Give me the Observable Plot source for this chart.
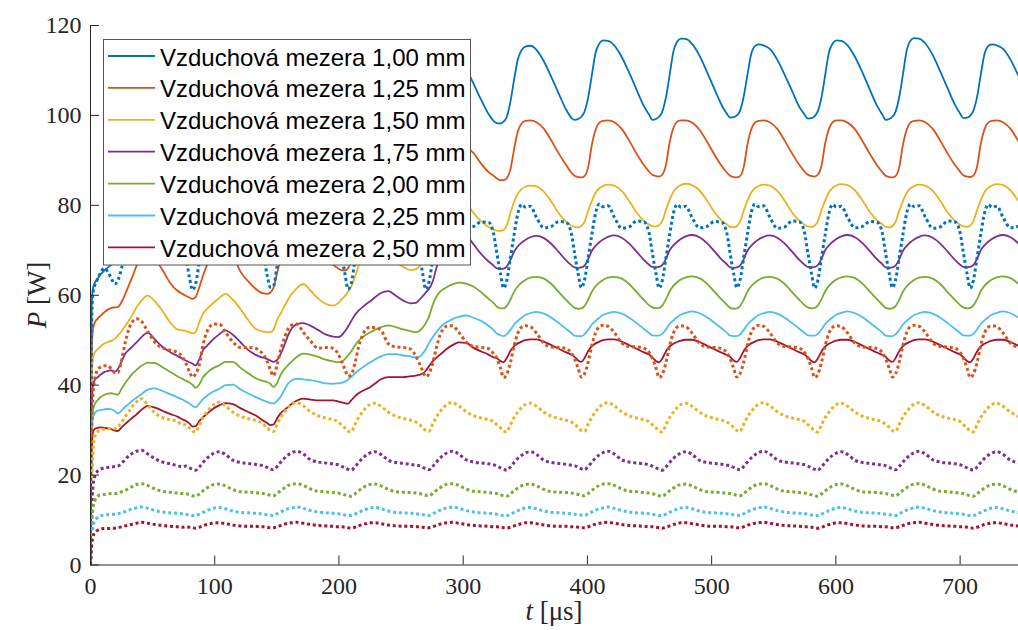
<!DOCTYPE html>
<html><head><meta charset="utf-8">
<script src="https://cdn.jsdelivr.net/npm/d3@7"></script>
<script src="https://cdn.jsdelivr.net/npm/@observablehq/plot@0.6"></script>
<style>
body{margin:0;background:#fff;}
#wrap{position:relative;width:1018px;height:630px;overflow:hidden;}
#wrap svg.overlay{position:absolute;left:0;top:0;pointer-events:none;}
</style></head><body><div id="wrap"></div>
<script>
// time axis samples (µs)
const time = [
 0,0.4,1,2,3.5,5.5,8,11,
 14,17,19.5,22,25,28,31,34,37,41,46,52,58,64,70,74,
 76.6,79.6,82.1,84.6,87.6,90.6,93.6,96.6,99.6,103.6,108.6,114.6,120.6,126.6,132.6,136.6,
 139.2,142.2,144.7,147.2,150.2,153.2,156.2,159.2,162.2,166.2,171.2,177.2,183.2,189.2,195.2,199.2,
 201.8,204.8,207.3,209.8,212.8,215.8,218.8,221.8,224.8,228.8,233.8,239.8,245.8,251.8,257.8,261.8,
 264.4,267.4,269.9,272.4,275.4,278.4,281.4,284.4,287.4,291.4,296.4,302.4,308.4,314.4,320.4,324.4,
 327,330,332.5,335,338,341,344,347,350,354,359,365,371,377,383,387,
 389.6,392.6,395.1,397.6,400.6,403.6,406.6,409.6,412.6,416.6,421.6,427.6,433.6,439.6,445.6,449.6,
 452.2,455.2,457.7,460.2,463.2,466.2,469.2,472.2,475.2,479.2,484.2,490.2,496.2,502.2,508.2,512.2,
 514.8,517.8,520.3,522.8,525.8,528.8,531.8,534.8,537.8,541.8,546.8,552.8,558.8,564.8,570.8,574.8,
 577.4,580.4,582.9,585.4,588.4,591.4,594.4,597.4,600.4,604.4,609.4,615.4,621.4,627.4,633.4,637.4,
 640,643,645.5,648,651,654,657,660,663,667,672,678,684,690,696,700,
 702.6,705.6,708.1,710.6,713.6,716.6,719.6,722.6,725.6,729.6,734.6,740.6,746.6,752.6
];

// solid lines (legend entries)
const s100 = [
 0,30,58,61.5,62.8,63.6,64.6,65.5,
 66.2,66.8,67.5,68.5,70.0,72.5,75.0,77.0,78.5,79.5,79.0,77.0,74.5,72.5,71.5,71.3,
 71.3,71.5,72.0,73.0,75.5,79.0,82.5,85.0,86.5,87.0,86.5,84.5,82.0,80.0,79.0,78.8,
 78.8,79.0,79.5,80.5,83.0,87.0,91.0,94.0,95.5,96.0,95.5,93.5,90.5,88.0,86.5,86.0,
 85.8,85.8,86.0,87.0,90.0,95.0,100.0,103.0,104.5,105.0,104.5,102.0,98.5,95.5,94.0,93.5,
 93.3,93.5,94.0,95.5,99.0,104.0,109.0,112.0,113.5,113.8,113.0,110.5,107.0,103.5,100.3,98.8,
 98.3,98.2,98.6,99.6,103.0,108.0,112.5,114.5,115.3,115.5,114.6,112.0,108.5,104.8,101.2,99.5,
 99.0,99.2,99.7,100.8,104.0,109.0,114.0,116.0,116.7,116.6,115.6,113.0,109.5,105.7,102.0,100.2,
 99.0,99.2,99.7,100.8,104.0,109.0,114.2,116.4,117.1,117.0,115.9,113.3,109.7,105.9,102.2,100.4,
 99.5,99.6,100.0,101.0,104.2,109.0,113.6,115.4,115.8,115.6,114.8,112.4,109.0,105.4,101.8,100.2,
 99.3,99.4,99.8,100.9,104.0,109.0,114.0,116.0,116.7,116.6,115.6,113.0,109.5,105.7,102.0,100.2,
 99.0,99.2,99.7,100.8,104.1,109.2,114.4,116.6,117.2,117.1,116.0,113.4,109.8,106.0,102.3,100.4,
 99.4,99.5,99.9,101.0,104.0,109.0,113.6,115.4,115.8,115.6,114.8,112.4,109.0,105.4
];
const s125 = [
 0,25,48,52.5,54.0,54.7,55.4,56.2,
 56.8,57.2,57.3,57.4,58.5,60.3,62.3,64.3,66.5,68.5,69.8,68.0,65.6,62.8,61.0,60.3,
 59.9,59.5,59.2,59.6,61.8,64.4,66.6,68.6,70.2,71.5,72.0,69.0,65.3,63.2,61.5,60.7,
 60.4,60.3,60.6,61.6,65.0,68.0,70.5,72.5,74.0,75.0,75.2,73.5,71.0,68.5,66.8,66.0,
 65.6,65.5,66.0,67.5,70.5,74.0,77.0,79.0,80.3,81.0,80.7,79.0,76.5,74.5,73.0,72.5,
 72.6,73.5,75.5,78.5,83.0,87.0,90.5,92.5,93.5,94.0,93.8,93.0,91.6,89.3,87.4,86.6,
 86.0,85.6,85.6,86.0,88.0,92.5,96.5,98.2,98.8,98.9,98.5,97.0,94.4,91.5,88.9,87.3,
 86.6,86.3,86.2,86.5,88.5,93.5,96.8,98.4,98.8,98.9,98.5,97.0,94.4,91.5,88.9,87.5,
 86.8,86.5,86.4,86.8,89.0,94.0,97.2,98.6,98.9,98.9,98.4,96.8,94.2,91.3,88.7,87.3,
 86.6,86.3,86.2,86.5,88.5,93.5,96.8,98.4,98.8,98.9,98.5,97.0,94.4,91.5,88.9,87.5,
 86.8,86.5,86.4,86.8,88.8,93.8,97.0,98.5,98.9,98.9,98.4,96.9,94.3,91.4,88.8,87.4,
 86.6,86.3,86.2,86.5,88.5,93.5,96.8,98.4,98.8,98.9,98.5,97.0,94.4,91.5,88.9,87.5,
 86.7,86.4,86.3,86.6,88.6,93.6,96.9,98.4,98.8,98.9,98.5,97.0,94.4,91.5
];
const s150 = [
 0,23,42,46,47.3,47.9,48.6,49.2,
 49.6,49.9,50.3,51.0,52.0,53.2,54.4,55.8,57.3,58.8,59.9,58.6,56.5,54.0,52.4,52.2,
 52.1,51.8,51.5,51.8,54.0,55.9,56.9,57.7,58.5,59.4,60.3,59.0,57.0,54.6,52.6,52.1,
 51.9,51.8,51.8,52.3,54.5,56.0,57.6,59.1,60.4,61.6,62.5,61.0,59.3,58.1,57.7,58.2,
 59.0,59.8,60.8,61.9,64.0,66.5,68.3,69.6,70.3,70.6,70.2,68.8,67.4,66.3,65.6,65.8,
 66.4,68.0,70.5,73.5,77.0,80.0,82.0,83.2,83.8,84.0,83.0,80.7,78.3,76.5,75.2,74.6,
 74.4,74.3,74.5,75.5,78.3,80.8,82.6,83.6,84.1,84.4,84.2,83.0,80.8,78.2,76.3,75.5,
 75.2,75.1,75.4,76.3,78.8,81.0,82.8,83.8,84.3,84.6,84.4,83.2,81.0,78.4,76.5,75.7,
 75.4,75.3,75.6,76.5,79.0,81.2,83.0,84.0,84.5,84.8,84.5,83.3,81.1,78.5,76.6,75.8,
 75.2,75.1,75.4,76.3,78.8,81.0,82.8,83.8,84.3,84.6,84.4,83.2,81.0,78.4,76.5,75.7,
 75.3,75.2,75.5,76.4,78.9,81.1,82.9,83.9,84.4,84.7,84.5,83.3,81.1,78.5,76.6,75.8,
 75.2,75.1,75.4,76.3,78.8,81.0,82.8,83.8,84.3,84.6,84.4,83.2,81.0,78.4,76.5,75.7,
 75.3,75.2,75.5,76.4,78.9,81.1,82.9,83.9,84.4,84.7,84.5,83.3,81.1,78.5
];
const s175 = [
 0,18,35,40,41.2,41.7,42.3,42.9,
 43.2,43.3,43.0,43.6,45.3,47.0,47.9,48.7,49.5,50.7,51.7,50.1,48.5,47.4,46.5,45.9,
 45.5,45.1,44.8,44.4,45.8,47.8,48.7,49.6,50.4,51.3,52.2,51.2,49.6,47.9,46.8,46.3,
 46.1,45.8,45.5,45.2,45.6,47.0,49.0,51.2,52.7,53.6,53.8,53.2,52.3,51.3,50.8,50.7,
 51.0,52.0,53.0,54.2,55.6,56.6,57.3,58.0,58.6,59.5,60.5,60.9,59.9,58.8,58.2,58.3,
 58.9,59.8,60.6,61.4,63.0,66.0,68.5,70.2,71.5,72.8,73.5,73.2,71.3,69.2,67.5,66.6,
 66.0,65.8,65.9,66.4,67.8,69.7,70.9,71.7,72.3,72.9,73.2,72.7,71.4,69.6,67.7,66.7,
 66.2,66.1,66.2,66.6,68.0,69.9,71.0,71.8,72.4,73.0,73.3,72.8,71.5,69.7,67.8,66.8,
 66.3,66.2,66.3,66.7,68.1,70.0,71.1,71.9,72.5,73.1,73.4,72.9,71.6,69.8,67.9,66.9,
 66.2,66.1,66.2,66.6,68.0,69.9,71.0,71.8,72.4,73.0,73.3,72.8,71.5,69.7,67.8,66.8,
 66.3,66.2,66.3,66.7,68.1,70.0,71.1,71.9,72.5,73.1,73.4,72.9,71.6,69.8,67.9,66.9,
 66.2,66.1,66.2,66.6,68.0,69.9,71.0,71.8,72.4,73.0,73.3,72.8,71.5,69.7,67.8,66.8,
 66.3,66.2,66.3,66.7,68.1,70.0,71.1,71.9,72.5,73.1,73.4,72.9,71.6,69.8
];
const s200 = [
 0,16,30,34.5,35.8,36.6,37.3,37.8,
 38.1,38.2,38.0,37.9,39.2,40.5,41.6,42.6,43.4,44.3,45.0,44.9,44.0,43.0,42.0,41.4,
 41.0,40.6,40.1,39.4,40.2,41.8,42.7,43.4,43.9,44.4,45.2,45.2,43.9,42.7,41.6,41.1,
 40.9,40.7,40.3,39.6,40.5,42.4,43.6,44.5,45.3,46.3,47.0,46.8,46.3,45.7,45.3,45.1,
 45.2,45.8,46.6,47.5,48.8,49.9,50.6,51.2,51.7,52.3,52.9,53.3,52.9,52.4,52.0,51.8,
 52.0,52.8,53.8,55.2,57.8,59.6,60.8,61.4,61.9,62.4,62.8,62.6,61.9,60.7,59.2,58.3,
 57.5,57.1,57.1,57.6,59.0,60.8,62.0,62.8,63.4,63.9,64.1,63.7,62.5,60.7,58.9,57.8,
 57.2,57.0,57.1,57.6,59.0,60.8,62.0,62.8,63.4,63.9,64.1,63.7,62.5,60.7,58.9,57.8,
 57.3,57.1,57.2,57.7,59.1,60.9,62.1,62.9,63.5,64.0,64.2,63.8,62.6,60.8,59.0,57.9,
 57.2,57.0,57.1,57.6,59.0,60.8,62.0,62.8,63.4,63.9,64.1,63.7,62.5,60.7,58.9,57.8,
 57.3,57.1,57.2,57.7,59.1,60.9,62.1,62.9,63.5,64.0,64.2,63.8,62.6,60.8,59.0,57.9,
 57.2,57.0,57.1,57.6,59.0,60.8,62.0,62.8,63.4,63.9,64.1,63.7,62.5,60.7,58.9,57.8,
 57.3,57.1,57.2,57.7,59.1,60.9,62.1,62.9,63.5,64.0,64.2,63.8,62.6,60.8
];
const s225 = [
 0,16,29,32.8,33.8,34.3,34.5,34.6,
 34.7,34.6,34.2,33.7,34.3,35.2,35.9,36.6,37.2,38.0,39.0,39.3,38.7,38.0,37.3,36.8,
 36.4,35.9,35.4,35.1,35.9,36.9,37.6,38.2,38.7,39.2,40.0,40.1,39.1,38.2,37.4,36.9,
 36.6,36.3,36.0,35.9,36.5,37.5,39.0,40.4,41.1,41.4,41.3,41.1,40.8,40.4,40.3,40.4,
 40.5,40.8,41.2,41.8,42.6,43.3,43.9,44.5,45.0,45.7,46.4,46.9,46.9,46.6,46.4,46.2,
 46.3,47.0,48.0,49.3,50.6,51.8,52.8,53.6,54.1,54.7,55.2,55.5,55.0,54.3,53.2,52.3,
 51.5,51.1,50.9,51.3,52.3,53.5,54.3,55.0,55.6,56.0,56.3,55.9,55.0,53.8,52.5,51.6,
 51.0,50.9,50.9,51.3,52.3,53.5,54.3,55.0,55.6,56.0,56.3,55.9,55.0,53.8,52.5,51.6,
 51.1,51.0,51.0,51.4,52.4,53.6,54.4,55.1,55.7,56.1,56.4,56.0,55.1,53.9,52.6,51.7,
 51.0,50.9,50.9,51.3,52.3,53.5,54.3,55.0,55.6,56.0,56.3,55.9,55.0,53.8,52.5,51.6,
 51.1,51.0,51.0,51.4,52.4,53.6,54.4,55.1,55.7,56.1,56.4,56.0,55.1,53.9,52.6,51.7,
 51.0,50.9,50.9,51.3,52.3,53.5,54.3,55.0,55.6,56.0,56.3,55.9,55.0,53.8,52.5,51.6,
 51.1,51.0,51.0,51.4,52.4,53.6,54.4,55.1,55.7,56.1,56.4,56.0,55.1,53.9
];
const s250 = [
 0,15,26,29.5,30.3,30.5,30.6,30.5,
 30.4,30.2,29.9,29.8,30.6,31.4,32.1,32.8,33.5,34.5,35.4,35.0,34.3,33.6,33.0,32.4,
 32.1,31.5,30.8,30.9,32.0,32.9,33.6,34.3,34.9,35.5,36.0,35.8,34.9,34.1,33.3,32.6,
 32.1,31.6,31.1,31.2,32.6,33.8,34.5,35.2,35.9,36.6,37.0,36.8,36.6,36.6,36.6,36.4,
 36.2,36.0,35.9,36.6,37.5,38.2,38.7,39.1,39.5,40.3,41.3,41.8,41.8,41.8,42.0,42.1,
 42.3,42.6,43.2,44.2,45.3,46.1,46.8,47.5,48.2,48.9,49.5,49.4,48.3,47.5,46.8,46.2,
 46.0,45.4,45.1,46.0,47.6,48.7,49.3,49.7,50.0,50.2,50.2,49.7,48.9,48.1,47.3,46.8,
 46.3,45.5,45.2,46.0,47.6,48.7,49.3,49.7,50.0,50.2,50.2,49.7,48.9,48.1,47.3,46.8,
 46.2,45.4,45.1,45.9,47.5,48.6,49.2,49.6,49.9,50.1,50.1,49.6,48.8,48.0,47.2,46.7,
 46.3,45.5,45.2,46.0,47.6,48.7,49.3,49.7,50.0,50.2,50.2,49.7,48.9,48.1,47.3,46.8,
 46.2,45.4,45.1,45.9,47.5,48.6,49.2,49.6,49.9,50.1,50.1,49.6,48.8,48.0,47.2,46.7,
 46.3,45.5,45.2,46.0,47.6,48.7,49.3,49.7,50.0,50.2,50.2,49.7,48.9,48.1,47.3,46.8,
 46.2,45.4,45.1,45.9,47.5,48.6,49.2,49.6,49.9,50.1,50.1,49.6,48.8,48.0
];

// dotted lines
const d100 = [
 0,30,55,60.5,62.3,63.5,65.0,66.0,
 65.2,63.6,62.5,63.3,66.0,70.0,74.0,76.5,77.0,76.5,74.5,73.0,73.5,74.0,73.5,70.5,
 68.5,64.0,61.2,62.5,67.5,72.5,76.5,78.0,77.5,77.6,75.5,73.5,74.0,74.8,74.5,72.5,
 69.0,64.5,61.8,62.0,66.5,72.0,76.5,78.5,78.3,78.5,76.5,74.3,74.6,75.5,75.3,73.0,
 69.2,64.8,61.4,62.6,67.5,72.8,77.5,79.3,79.0,79.2,77.0,74.8,75.1,76.0,75.8,73.5,
 69.5,64.8,61.3,62.8,68.0,73.3,78.0,80.0,79.6,79.8,77.3,75.0,75.3,76.3,76.2,73.8,
 69.5,64.8,61.6,63.2,68.3,73.5,78.2,80.2,79.6,79.8,77.3,75.0,75.3,76.4,76.2,73.8,
 69.4,64.7,61.7,63.3,68.4,73.6,78.3,80.3,79.7,79.9,77.4,74.9,75.2,76.5,76.3,73.9,
 69.5,64.8,61.6,63.2,68.3,73.5,78.2,80.2,79.6,79.8,77.3,75.0,75.3,76.4,76.2,73.8,
 69.4,64.7,61.7,63.3,68.4,73.6,78.3,80.3,79.7,79.9,77.4,74.9,75.2,76.5,76.3,73.9,
 69.5,64.8,61.6,63.2,68.3,73.5,78.2,80.2,79.6,79.8,77.3,75.0,75.3,76.4,76.2,73.8,
 69.4,64.7,61.7,63.3,68.4,73.6,78.3,80.3,79.7,79.9,77.4,74.9,75.2,76.5,76.3,73.9,
 69.5,64.8,61.6,63.2,68.3,73.5,78.2,80.2,79.6,79.8,77.3,75.0,75.3,76.4
];
const d125 = [
 0,15,30,38,41.5,43.3,44.0,44.3,
 44.3,43.5,42.8,42.8,45.5,49.5,52.6,54.2,54.8,54.2,52.0,49.5,48.3,47.8,47.3,46.3,
 45.0,43.0,41.8,42.5,44.5,49.0,51.8,53.2,53.6,53.6,51.8,49.6,48.4,48.4,48.2,47.5,
 46.8,45.3,43.5,42.1,44.5,48.0,50.5,52.6,53.4,53.6,51.8,49.8,48.2,48.4,48.2,47.0,
 45.5,43.5,42.0,42.3,44.8,48.5,51.0,52.4,52.9,52.8,52.2,49.2,48.5,48.4,48.0,46.5,
 45.0,43.2,41.9,42.5,44.8,48.3,51.2,52.6,53.2,53.2,51.8,49.6,48.6,48.4,48.1,47.0,
 46.0,43.8,41.7,42.4,45.0,48.8,51.6,52.9,53.2,53.0,51.6,49.3,48.5,48.4,48.1,47.2,
 45.9,43.7,41.8,42.5,45.1,48.9,51.7,53.0,53.3,53.1,51.7,49.4,48.6,48.5,48.2,47.3,
 46.0,43.8,41.7,42.4,45.0,48.8,51.6,52.9,53.2,53.0,51.6,49.3,48.5,48.4,48.1,47.2,
 45.9,43.7,41.8,42.5,45.1,48.9,51.7,53.0,53.3,53.1,51.7,49.4,48.6,48.5,48.2,47.3,
 46.0,43.8,41.7,42.4,45.0,48.8,51.6,52.9,53.2,53.0,51.6,49.3,48.5,48.4,48.1,47.2,
 45.9,43.7,41.8,42.5,45.1,48.9,51.7,53.0,53.3,53.1,51.7,49.4,48.6,48.5,48.2,47.3,
 46.0,43.8,41.7,42.4,45.0,48.8,51.6,52.9,53.2,53.0,51.6,49.3,48.5,48.4
];
const d150 = [
 0,8,18,25,28.5,29.6,30.0,30.2,
 30.3,30.3,30.3,30.8,31.7,33.0,34.2,35.4,36.3,37.0,35.6,33.8,32.8,32.3,31.9,31.2,
 31.2,30.5,29.8,29.6,31.2,32.8,34.0,35.0,35.7,36.2,35.4,34.0,33.1,32.6,32.2,31.8,
 31.3,30.6,29.9,29.7,31.3,32.9,34.1,35.1,35.8,36.1,35.4,34.1,33.2,32.7,32.3,31.9,
 31.2,30.5,29.8,29.6,31.2,32.8,34.0,35.0,35.7,36.0,35.3,34.0,33.1,32.6,32.2,31.8,
 31.3,30.6,29.9,29.7,31.3,32.9,34.1,35.1,35.8,36.1,35.4,34.1,33.2,32.7,32.3,31.9,
 31.2,30.5,29.8,29.6,31.2,32.8,34.0,35.0,35.7,36.0,35.3,34.0,33.1,32.6,32.2,31.8,
 31.3,30.6,29.9,29.7,31.3,32.9,34.1,35.1,35.8,36.1,35.4,34.1,33.2,32.7,32.3,31.9,
 31.2,30.5,29.8,29.6,31.2,32.8,34.0,35.0,35.7,36.0,35.3,34.0,33.1,32.6,32.2,31.8,
 31.3,30.6,29.9,29.7,31.3,32.9,34.1,35.1,35.8,36.1,35.4,34.1,33.2,32.7,32.3,31.9,
 31.2,30.5,29.8,29.6,31.2,32.8,34.0,35.0,35.7,36.0,35.3,34.0,33.1,32.6,32.2,31.8,
 31.3,30.6,29.9,29.7,31.3,32.9,34.1,35.1,35.8,36.1,35.4,34.1,33.2,32.7,32.3,31.9,
 31.2,30.5,29.8,29.6,31.2,32.8,34.0,35.0,35.7,36.0,35.3,34.0,33.1,32.6
];
const d175 = [
 0,5,12,17.5,19.8,20.8,21.3,21.6,
 21.7,21.8,21.9,22.0,22.6,23.5,24.3,24.9,25.3,25.5,24.7,23.6,22.9,22.5,22.1,21.8,
 22.0,21.6,21.3,21.1,21.8,22.8,23.7,24.4,24.9,25.2,24.6,23.3,22.8,22.6,22.4,22.2,
 22.1,21.7,21.4,21.2,21.9,22.9,23.8,24.5,25.0,25.3,24.7,23.4,22.9,22.7,22.5,22.3,
 22.0,21.6,21.3,21.1,21.8,22.8,23.7,24.4,24.9,25.2,24.6,23.3,22.8,22.6,22.4,22.2,
 22.1,21.7,21.4,21.2,21.9,22.9,23.8,24.5,25.0,25.3,24.7,23.4,22.9,22.7,22.5,22.3,
 22.0,21.6,21.3,21.1,21.8,22.8,23.7,24.4,24.9,25.2,24.6,23.3,22.8,22.6,22.4,22.2,
 22.1,21.7,21.4,21.2,21.9,22.9,23.8,24.5,25.0,25.3,24.7,23.4,22.9,22.7,22.5,22.3,
 22.0,21.6,21.3,21.1,21.8,22.8,23.7,24.4,24.9,25.2,24.6,23.3,22.8,22.6,22.4,22.2,
 22.1,21.7,21.4,21.2,21.9,22.9,23.8,24.5,25.0,25.3,24.7,23.4,22.9,22.7,22.5,22.3,
 22.0,21.6,21.3,21.1,21.8,22.8,23.7,24.4,24.9,25.2,24.6,23.3,22.8,22.6,22.4,22.2,
 22.1,21.7,21.4,21.2,21.9,22.9,23.8,24.5,25.0,25.3,24.7,23.4,22.9,22.7,22.5,22.3,
 22.0,21.6,21.3,21.1,21.8,22.8,23.7,24.4,24.9,25.2,24.6,23.3,22.8,22.6
];
const d200 = [
 0,4,9,12.5,14.3,15.2,15.6,15.7,
 15.8,15.9,15.9,16.0,16.3,16.6,17.1,17.5,17.9,18.1,17.7,16.9,16.4,16.2,16.0,15.9,
 15.9,15.6,15.4,15.3,15.8,16.5,17.1,17.6,17.9,18.0,17.6,16.8,16.3,16.2,16.1,16.0,
 15.9,15.7,15.5,15.4,15.9,16.6,17.2,17.7,18.0,18.1,17.7,16.9,16.4,16.3,16.1,16.0,
 15.9,15.6,15.4,15.3,15.8,16.5,17.1,17.6,17.9,18.0,17.6,16.8,16.3,16.2,16.1,16.0,
 15.9,15.7,15.5,15.4,15.9,16.6,17.2,17.7,18.0,18.1,17.7,16.9,16.4,16.3,16.1,16.0,
 15.9,15.6,15.4,15.3,15.8,16.5,17.1,17.6,17.9,18.0,17.6,16.8,16.3,16.2,16.1,16.0,
 15.9,15.7,15.5,15.4,15.9,16.6,17.2,17.7,18.0,18.1,17.7,16.9,16.4,16.3,16.1,16.0,
 15.9,15.6,15.4,15.3,15.8,16.5,17.1,17.6,17.9,18.0,17.6,16.8,16.3,16.2,16.1,16.0,
 15.9,15.7,15.5,15.4,15.9,16.6,17.2,17.7,18.0,18.1,17.7,16.9,16.4,16.3,16.1,16.0,
 15.9,15.6,15.4,15.3,15.8,16.5,17.1,17.6,17.9,18.0,17.6,16.8,16.3,16.2,16.1,16.0,
 15.9,15.7,15.5,15.4,15.9,16.6,17.2,17.7,18.0,18.1,17.7,16.9,16.4,16.3,16.1,16.0,
 15.9,15.6,15.4,15.3,15.8,16.5,17.1,17.6,17.9,18.0,17.6,16.8,16.3,16.2
];
const d225 = [
 0,3,6,8.5,9.8,10.5,10.9,11.1,
 11.2,11.3,11.3,11.4,11.6,11.9,12.2,12.5,12.7,12.9,12.6,12.1,11.8,11.6,11.5,11.4,
 11.3,11.1,11.0,11.0,11.3,11.7,12.1,12.4,12.7,12.8,12.5,12.0,11.7,11.6,11.5,11.4,
 11.3,11.2,11.1,11.0,11.4,11.8,12.2,12.5,12.7,12.9,12.6,12.1,11.8,11.6,11.5,11.4,
 11.3,11.1,11.0,11.0,11.3,11.7,12.1,12.4,12.7,12.8,12.5,12.0,11.7,11.6,11.5,11.4,
 11.3,11.2,11.1,11.0,11.4,11.8,12.2,12.5,12.7,12.9,12.6,12.1,11.8,11.6,11.5,11.4,
 11.3,11.1,11.0,11.0,11.3,11.7,12.1,12.4,12.7,12.8,12.5,12.0,11.7,11.6,11.5,11.4,
 11.3,11.2,11.1,11.0,11.4,11.8,12.2,12.5,12.7,12.9,12.6,12.1,11.8,11.6,11.5,11.4,
 11.3,11.1,11.0,11.0,11.3,11.7,12.1,12.4,12.7,12.8,12.5,12.0,11.7,11.6,11.5,11.4,
 11.3,11.2,11.1,11.0,11.4,11.8,12.2,12.5,12.7,12.9,12.6,12.1,11.8,11.6,11.5,11.4,
 11.3,11.1,11.0,11.0,11.3,11.7,12.1,12.4,12.7,12.8,12.5,12.0,11.7,11.6,11.5,11.4,
 11.3,11.2,11.1,11.0,11.4,11.8,12.2,12.5,12.7,12.9,12.6,12.1,11.8,11.6,11.5,11.4,
 11.3,11.1,11.0,11.0,11.3,11.7,12.1,12.4,12.7,12.8,12.5,12.0,11.7,11.6
];
const d250 = [
 0,2.5,4.5,6.2,7.2,7.7,8.0,8.1,
 8.1,8.2,8.2,8.3,8.5,8.7,8.9,9.1,9.3,9.5,9.3,9.0,8.8,8.6,8.5,8.4,
 8.5,8.4,8.3,8.2,8.4,8.7,9.0,9.2,9.4,9.4,9.2,8.9,8.7,8.6,8.6,8.5,
 8.5,8.4,8.3,8.3,8.5,8.8,9.1,9.3,9.4,9.5,9.3,9.0,8.8,8.7,8.6,8.5,
 8.5,8.4,8.3,8.2,8.4,8.7,9.0,9.2,9.4,9.4,9.2,8.9,8.7,8.6,8.6,8.5,
 8.5,8.4,8.3,8.3,8.5,8.8,9.1,9.3,9.4,9.5,9.3,9.0,8.8,8.7,8.6,8.5,
 8.5,8.4,8.3,8.2,8.4,8.7,9.0,9.2,9.4,9.4,9.2,8.9,8.7,8.6,8.6,8.5,
 8.5,8.4,8.3,8.3,8.5,8.8,9.1,9.3,9.4,9.5,9.3,9.0,8.8,8.7,8.6,8.5,
 8.5,8.4,8.3,8.2,8.4,8.7,9.0,9.2,9.4,9.4,9.2,8.9,8.7,8.6,8.6,8.5,
 8.5,8.4,8.3,8.3,8.5,8.8,9.1,9.3,9.4,9.5,9.3,9.0,8.8,8.7,8.6,8.5,
 8.5,8.4,8.3,8.2,8.4,8.7,9.0,9.2,9.4,9.4,9.2,8.9,8.7,8.6,8.6,8.5,
 8.5,8.4,8.3,8.3,8.5,8.8,9.1,9.3,9.4,9.5,9.3,9.0,8.8,8.7,8.6,8.5,
 8.5,8.4,8.3,8.2,8.4,8.7,9.0,9.2,9.4,9.4,9.2,8.9,8.7,8.6
];

const labels = ["Vzduchová mezera 1,00 mm","Vzduchová mezera 1,25 mm","Vzduchová mezera 1,50 mm",
  "Vzduchová mezera 1,75 mm","Vzduchová mezera 2,00 mm","Vzduchová mezera 2,25 mm","Vzduchová mezera 2,50 mm"];
const colors = ["#0072BD","#D95319","#EDB120","#7E2F8E","#77AC30","#4DBEEE","#A2142F"];
const solidSeries = [s100,s125,s150,s175,s200,s225,s250];
const dottedSeries = [d100,d125,d150,d175,d200,d225,d250];
const xTicks = [0,100,200,300,400,500,600,700];
const yTicks = [0,20,40,60,80,100,120];

const toRows = vals => time.map((t,i)=>({t, P: vals[i]})).filter(d => d.P != null);

const marks = [];
solidSeries.forEach((v,i)=>marks.push(Plot.line(toRows(v),{x:"t",y:"P",stroke:colors[i],strokeWidth:1.8,curve:"monotone-x",clip:true})));
dottedSeries.forEach((v,i)=>marks.push(Plot.line(toRows(v),{x:"t",y:"P",stroke:colors[i],strokeWidth:3,strokeDasharray:"3,2.8",strokeLinecap:"butt",strokeLinejoin:"miter",curve:"monotone-x",clip:true})));

const axisColor = "#262626";
marks.push(
  Plot.ruleX([0],{stroke:axisColor,strokeWidth:1}),
  Plot.ruleY([0],{stroke:axisColor,strokeWidth:1}),
  Plot.axisX({ticks:xTicks,tickSize:-9,tickFormat:()=>"",label:null,stroke:axisColor}),
  Plot.axisX({ticks:xTicks,tickSize:0,tickPadding:12,label:null,fill:axisColor}),
  Plot.axisY({ticks:yTicks,tickSize:-9,tickFormat:()=>"",label:null,stroke:axisColor}),
  Plot.axisY({ticks:yTicks,tickSize:0,tickPadding:9,label:null,fill:axisColor})
);

const chart = Plot.plot({
  width:1018, height:630,
  marginLeft:90, marginRight:0, marginTop:25, marginBottom:65.5,
  x:{domain:[0,747]},
  y:{domain:[0,120]},
  style:{fontFamily:"'Liberation Serif', serif", fontSize:"24px", color:axisColor, background:"#fff", overflow:"visible"},
  marks
});
const wrap = document.getElementById("wrap");
wrap.appendChild(chart);

// legend + axis titles overlay
const ov = d3.select(wrap).append("svg").attr("class","overlay").attr("width",1018).attr("height",630);
ov.append("rect").attr("x",103.5).attr("y",39.5).attr("width",367).attr("height",225.5)
  .attr("fill","#fff").attr("stroke","#555").attr("stroke-width",1);
labels.forEach((lab,i)=>{
  const y = 56 + i*31.9;
  ov.append("line").attr("x1",108).attr("x2",155).attr("y1",y).attr("y2",y)
    .attr("stroke",colors[i]).attr("stroke-width",1.8);
  ov.append("text").attr("x",160).attr("y",y+9.5).text(lab)
    .attr("font-family","'Liberation Sans', Arial, sans-serif").attr("font-size",24).attr("fill","#000");
});
const xl = ov.append("text").attr("x",554).attr("y",620).attr("text-anchor","middle")
  .attr("font-family","'Liberation Serif', serif").attr("font-size",27).attr("fill",axisColor);
xl.append("tspan").attr("font-style","italic").text("t");
xl.append("tspan").text(" [μs]");
const yl = ov.append("text").attr("transform","translate(46,295) rotate(-90)").attr("text-anchor","middle")
  .attr("font-family","'Liberation Serif', serif").attr("font-size",27).attr("fill",axisColor);
yl.append("tspan").attr("font-style","italic").text("P");
yl.append("tspan").text(" [W]");
</script></body></html>
